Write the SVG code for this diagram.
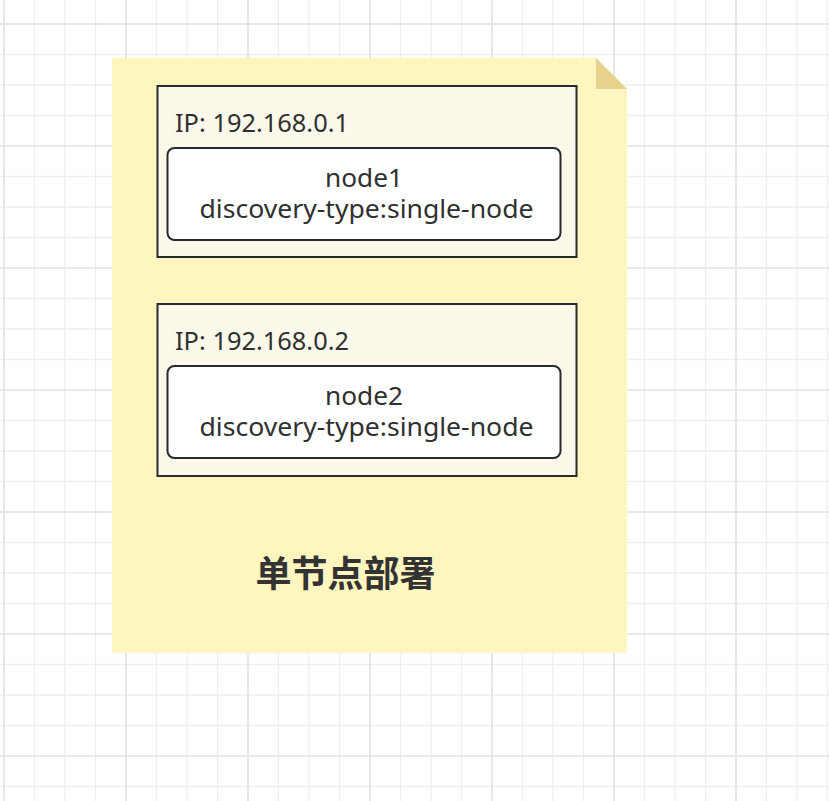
<svg xmlns="http://www.w3.org/2000/svg" width="829" height="801" viewBox="0 0 829 801">
  <style>
    .minor { stroke: #efefef; stroke-width: 1.3; fill: none; }
    .major { stroke: #e2e2e2; stroke-width: 1.6; fill: none; }
    .host { fill: #fcf8ea; stroke: #262b30; stroke-width: 2; }
    .inst { fill: #ffffff; stroke: #262b30; stroke-width: 2; }
    .t { font-family: "Noto Sans", "Open Sans", "DejaVu Sans", sans-serif; font-size: 25px; fill: #303030; }
    .c { text-anchor: middle; }
    .title { font-family: "Noto Sans CJK SC", "Noto Sans", sans-serif; font-size: 36px; font-weight: bold; fill: #333333; text-anchor: middle; }
  </style>
  <rect x="0" y="0" width="829" height="801" fill="#ffffff"/>
  <g id="grid">
    <path class="minor" d="M34.5,0V801M65,0V801M95.5,0V801M156.5,0V801M187,0V801M217.5,0V801M278.5,0V801M309,0V801M339.5,0V801M400.5,0V801M431,0V801M461.5,0V801M522.5,0V801M553,0V801M583.5,0V801M644.5,0V801M675,0V801M705.5,0V801M766.5,0V801M797,0V801M827.5,0V801
      M0,54.5H829M0,85H829M0,115.5H829M0,176.5H829M0,207H829M0,237.5H829M0,298.5H829M0,329H829M0,359.5H829M0,420.5H829M0,451H829M0,481.5H829M0,542.5H829M0,573H829M0,603.5H829M0,664.5H829M0,695H829M0,725.5H829M0,786.5H829"/>
    <path class="major" d="M4,0V801M126,0V801M248,0V801M370,0V801M492,0V801M614,0V801M736,0V801
      M0,24H829M0,146H829M0,268H829M0,390H829M0,512H829M0,634H829M0,756H829"/>
  </g>
  <g id="note">
    <path d="M112,58H596L627,89V653H112Z" fill="#fff5bf"/>
    <path d="M596,58V89H627Z" fill="#e6d28c"/>
    <text class="title" x="345.5" y="587">单节点部署</text>
  </g>
  <g id="host1">
    <rect class="host" x="157.5" y="86" width="419" height="171"/>
    <text class="t" x="175" y="132" textLength="174" lengthAdjust="spacingAndGlyphs">IP: 192.168.0.1</text>
  </g>
  <g id="node1">
    <rect class="inst" x="167.5" y="148" width="393" height="92" rx="7" ry="7"/>
    <text class="t c" x="364" y="187" textLength="78" lengthAdjust="spacingAndGlyphs">node1</text>
    <text class="t c" x="366.5" y="217.5" textLength="334" lengthAdjust="spacingAndGlyphs">discovery-type:single-node</text>
  </g>
  <g id="host2">
    <rect class="host" x="157.5" y="304" width="419" height="172"/>
    <text class="t" x="175" y="350" textLength="174" lengthAdjust="spacingAndGlyphs">IP: 192.168.0.2</text>
  </g>
  <g id="node2">
    <rect class="inst" x="167.5" y="366" width="393" height="92" rx="7" ry="7"/>
    <text class="t c" x="364" y="405" textLength="78" lengthAdjust="spacingAndGlyphs">node2</text>
    <text class="t c" x="366.5" y="435.5" textLength="334" lengthAdjust="spacingAndGlyphs">discovery-type:single-node</text>
  </g>
  <g id="connectors"/>
</svg>
